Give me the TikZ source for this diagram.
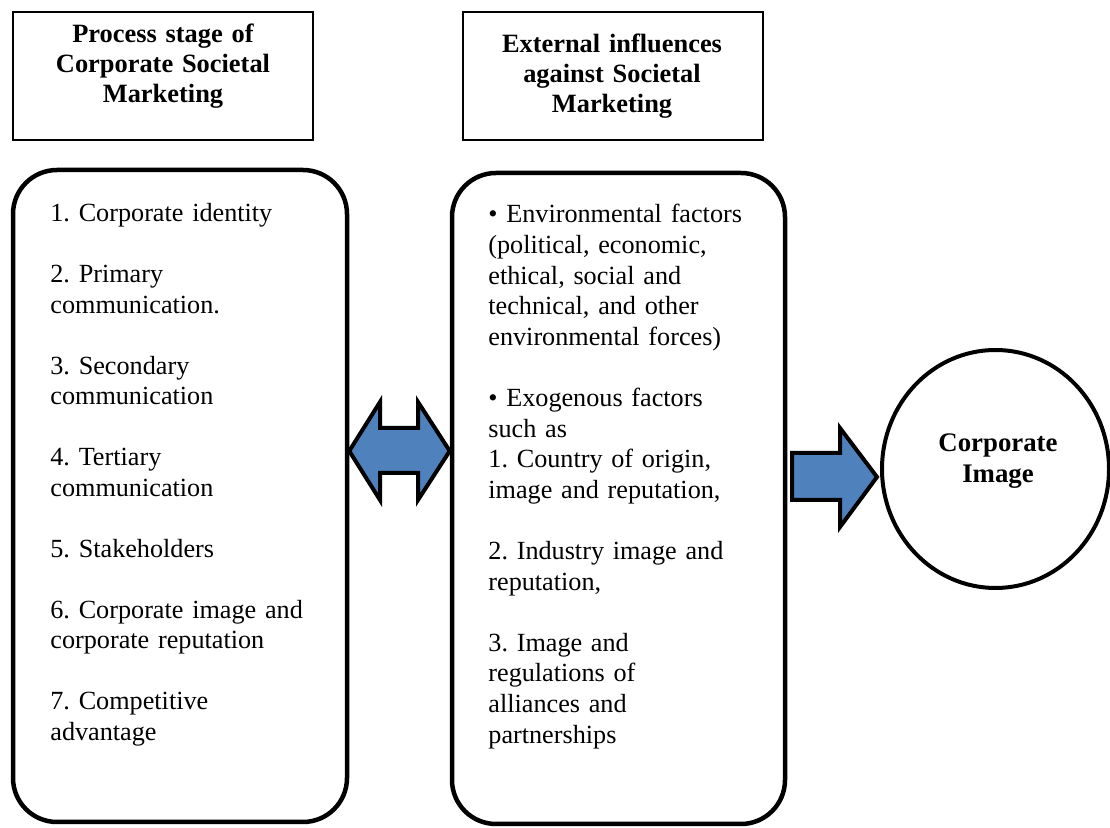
\documentclass[tikz,border=0pt]{standalone}
\usepackage{fontspec}
\setmainfont{Liberation Serif}
\usetikzlibrary{shapes.geometric}
\definecolor{arrowblue}{RGB}{79,129,189}
\begin{document}
\frenchspacing
\begin{tikzpicture}[x=0.5pt,y=-0.5pt,
  headbox/.style={draw,line width=1pt,inner sep=0,minimum width=150pt,minimum height=64pt},
  headtext/.style={font=\fontsize{13.2pt}{15pt}\selectfont\bfseries,align=center,text width=145pt,inner sep=0,anchor=base},
  listbox/.style={draw,line width=2.25pt,rounded corners=22pt,inner sep=0},
  listtext/.style={font=\fontsize{13.1pt}{15.25pt}\selectfont,align=left,text width=145pt,inner sep=0,anchor=base west},
  blockarrow/.style={fill=arrowblue,draw=black,line width=2pt,line join=miter}]
\useasboundingbox (0,0) rectangle (1110,828);

% heading boxes
\node[headbox] (hA) at (163,76) {};
\node[headbox] (hB) at (612.5,76) {};
\node[headtext] (hAt) at (163,43) {Process stage of\\Corporate Societal\\Marketing};
\node[headtext] (hBt) at (612,53) {External influences\\against Societal\\Marketing};

% list boxes
\node[listbox,minimum width=167pt,minimum height=326pt] (bA) at (180,496) {};
\node[listbox,minimum width=166.5pt,minimum height=325.5pt] (bB) at (618.5,498.5) {};

\node[listtext] (bAt) at (50,222) {1. Corporate identity\\[15.25pt]
2. Primary\\communication.\\[15.25pt]
3. Secondary\\communication\\[15.25pt]
4. Tertiary\\communication\\[15.25pt]
5. Stakeholders\\[15.25pt]
6. Corporate image and\\corporate reputation\\[15.25pt]
7. Competitive\\advantage};

\node[listtext,font=\fontsize{13.1pt}{15.3pt}\selectfont] (bBt) at (488,223) {• Environmental factors\\(political, economic,\\ethical, social and\\technical, and other\\environmental forces)\\[15.3pt]
• Exogenous factors\\such as\\1. Country of origin,\\image and reputation,\\[15.3pt]
2. Industry image and\\reputation,\\[15.3pt]
3. Image and\\regulations of\\alliances and\\partnerships};

% circle
\node[ellipse,draw,line width=2pt,minimum width=113.5pt,minimum height=119pt,inner sep=0] (circ) at (995.5,469) {};
\node[headtext,font=\fontsize{13.4pt}{15.5pt}\selectfont\bfseries] (circt) at (998,452) {Corporate\\Image};

% block arrows
\coordinate (dL) at (bA.east |- 0,451);
\coordinate (dR) at (bB.west |- 0,451);
\draw[blockarrow] (dL) -- (380,402) -- (380,428) -- (418,428) -- (418,402) -- (dR)
  -- (418,500) -- (418,473) -- (380,473) -- (380,500) -- cycle;
\draw[blockarrow] (792,453) -- (840,453) -- (840,428) -- (877,477) -- (840,527)
  -- (840,500) -- (792,500) -- cycle;
\end{tikzpicture}
\end{document}
